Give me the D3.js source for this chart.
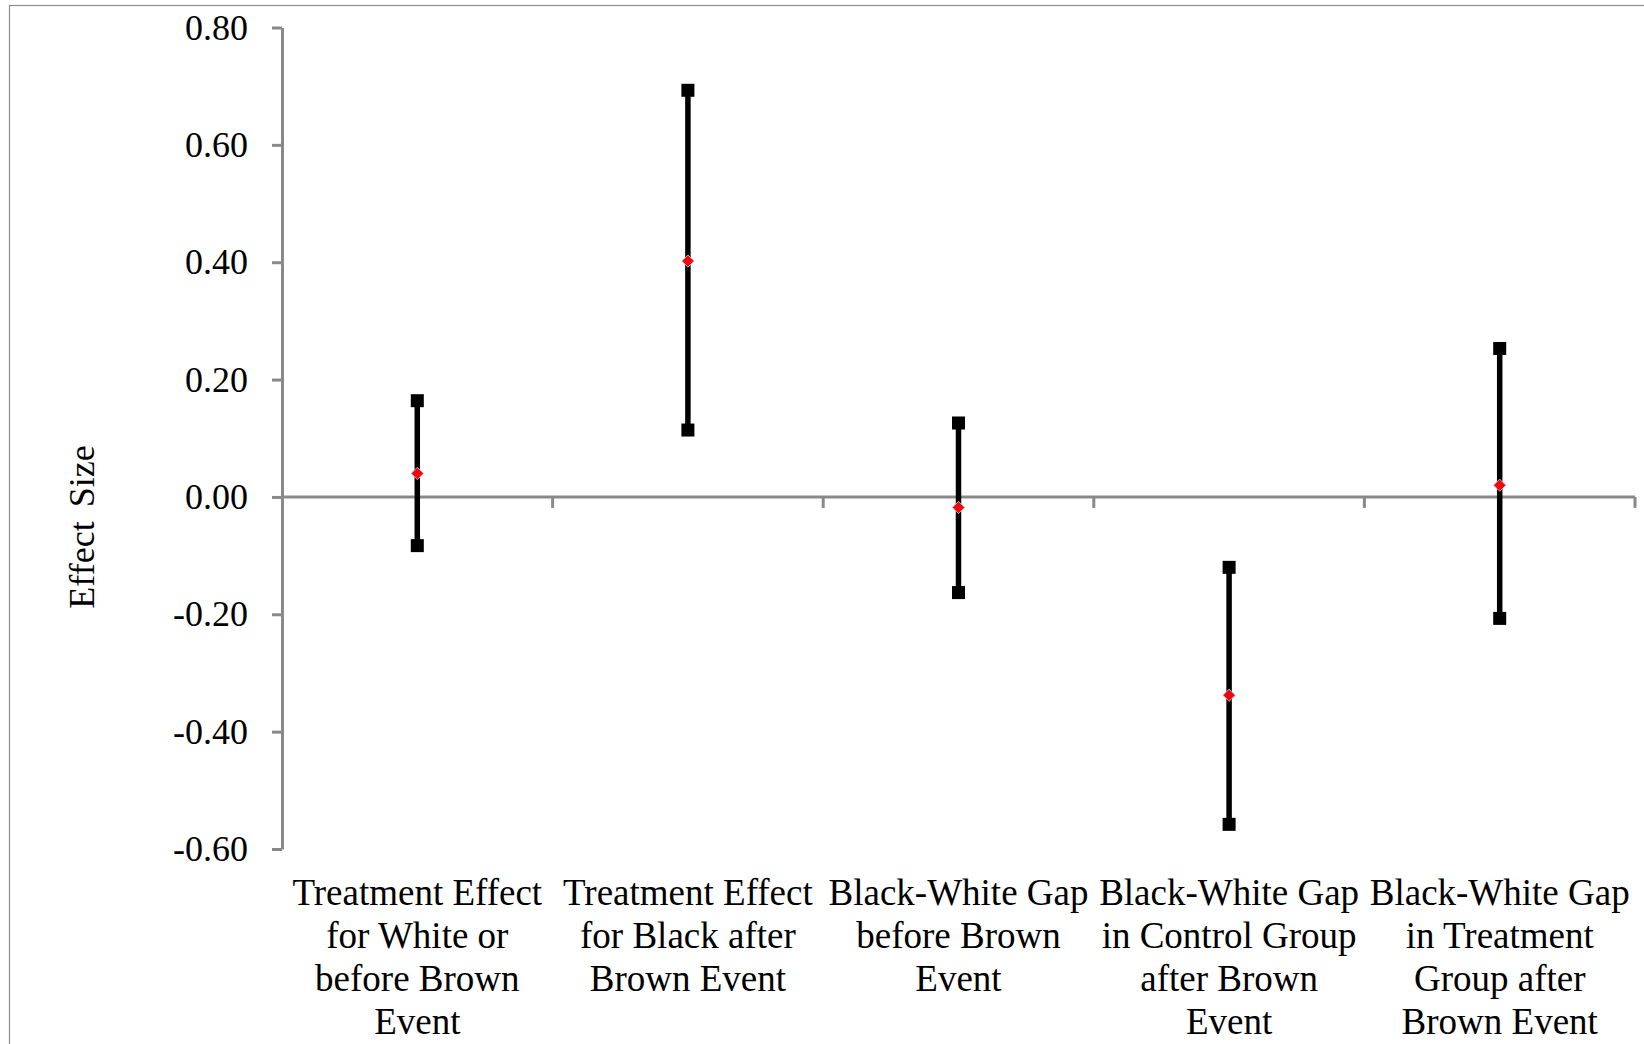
<!DOCTYPE html>
<html>
<head>
<meta charset="utf-8">
<script src="https://cdn.jsdelivr.net/npm/d3@7"></script>
<style>
  body { margin: 0; background: #fff; }
  svg text { font-family: "Liberation Serif", "Times New Roman", serif; fill: #000; }
</style>
</head>
<body>
<svg id="chart" width="1644" height="1044"></svg>

<script>
  // data
  var categories = [
    "Treatment Effect for White or before Brown Event",
    "Treatment Effect for Black after Brown Event",
    "Black-White Gap before Brown Event",
    "Black-White Gap in Control Group after Brown Event",
    "Black-White Gap in Treatment Group after Brown Event"
  ];
  var labelLines = [
    ["Treatment Effect", "for White or", "before Brown", "Event"],
    ["Treatment Effect", "for Black after", "Brown Event"],
    ["Black-White Gap", "before Brown", "Event"],
    ["Black-White Gap", "in Control Group", "after Brown", "Event"],
    ["Black-White Gap", "in Treatment", "Group after", "Brown Event"]
  ];
  var highs     = [0.164, 0.693, 0.126, -0.120, 0.253];
  var lows      = [-0.083, 0.114, -0.163, -0.558, -0.207];
  var estimates = [0.040, 0.402, -0.018, -0.338, 0.020];
  var yTicks    = [-0.60, -0.40, -0.20, 0.00, 0.20, 0.40, 0.60, 0.80];

  var axisColor = "#898989";
  var svg = d3.select("#chart");

  // chart frame
  svg.append("rect")
    .attr("x", 9.5).attr("y", 5.5)
    .attr("width", 1700).attr("height", 1100)
    .attr("fill", "none")
    .attr("stroke", "#8c8c8c")
    .attr("stroke-width", 1.2);

  var x = d3.scaleBand().domain(categories).range([282, 1635]).padding(0);
  var y = d3.scaleLinear().domain([-0.6, 0.8]).range([849, 27.5]);

  // y axis
  var yAxis = svg.append("g")
    .attr("transform", "translate(282,0)")
    .call(d3.axisLeft(y)
      .tickValues(yTicks)
      .tickSize(10)
      .tickSizeOuter(0)
      .tickPadding(24)
      .tickFormat(function(d){ return d.toFixed(2); }));
  yAxis.select(".domain").attr("stroke", axisColor).attr("stroke-width", 3);
  yAxis.selectAll(".tick line").attr("stroke", axisColor).attr("stroke-width", 3);
  yAxis.selectAll(".tick text")
    .attr("font-size", 36)
    .attr("font-family", "Liberation Serif")
    .attr("fill", "#000");

  // x axis sits at zero
  var y0 = y(0);
  svg.append("line")
    .attr("x1", x.range()[0]).attr("x2", x.range()[1])
    .attr("y1", y0).attr("y2", y0)
    .attr("stroke", axisColor).attr("stroke-width", 3);

  svg.selectAll(".xtick")
    .data(categories)
    .enter().append("line")
    .attr("class", "xtick")
    .attr("x1", function(d){ return x(d) + x.bandwidth(); })
    .attr("x2", function(d){ return x(d) + x.bandwidth(); })
    .attr("y1", y0)
    .attr("y2", y0 + 11)
    .attr("stroke", axisColor).attr("stroke-width", 3);

  // category labels
  var labels = svg.selectAll(".xlabel")
    .data(categories)
    .enter().append("text")
    .attr("class", "xlabel")
    .attr("text-anchor", "middle")
    .attr("font-size", 37)
    .attr("transform", function(d){
      return "translate(" + (x(d) + x.bandwidth() / 2) + ",905)";
    });
  labels.each(function(d, i){
    d3.select(this).selectAll("tspan")
      .data(labelLines[i])
      .enter().append("tspan")
      .attr("x", 0)
      .attr("y", function(t, j){ return j * 43; })
      .text(function(t){ return t; });
  });

  // y axis title
  svg.append("text")
    .attr("transform", "translate(94,527) rotate(-90)")
    .attr("text-anchor", "middle")
    .attr("font-size", 36)
    .attr("word-spacing", 5)
    .text("Effect Size");

  // intervals
  var cx = function(i){ return x(categories[i]) + x.bandwidth() / 2; };

  svg.selectAll(".range")
    .data(categories)
    .enter().append("line")
    .attr("class", "range")
    .attr("x1", function(d, i){ return cx(i); })
    .attr("x2", function(d, i){ return cx(i); })
    .attr("y1", function(d, i){ return y(highs[i]); })
    .attr("y2", function(d, i){ return y(lows[i]); })
    .attr("stroke", "#000")
    .attr("stroke-width", 5.5);

  var ends = [];
  categories.forEach(function(c, i){
    ends.push({ i: i, v: highs[i] });
    ends.push({ i: i, v: lows[i] });
  });

  svg.selectAll(".cap")
    .data(ends)
    .enter().append("rect")
    .attr("class", "cap")
    .attr("x", function(d){ return cx(d.i) - 6.5; })
    .attr("y", function(d){ return y(d.v) - 6.5; })
    .attr("width", 13).attr("height", 13)
    .attr("fill", "#000");

  // point estimates (red diamonds)
  svg.selectAll(".est")
    .data(estimates)
    .enter().append("path")
    .attr("class", "est")
    .attr("d", d3.symbol().type(d3.symbolDiamond2).size(95))
    .attr("transform", function(d, i){ return "translate(" + cx(i) + "," + y(d) + ")"; })
    .attr("fill", "#ff0000")
    .attr("stroke", "#9fb3d8")
    .attr("stroke-width", 1);
</script>
</body>
</html>
